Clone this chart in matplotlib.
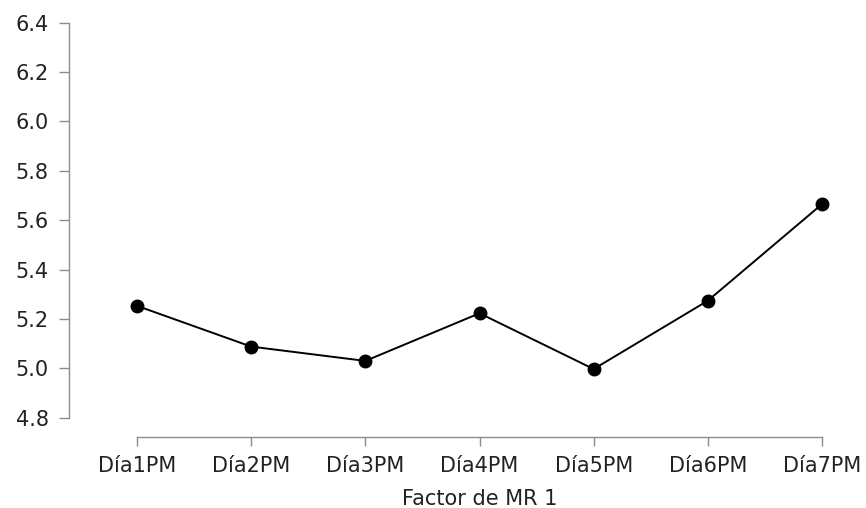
import matplotlib
matplotlib.use("Agg")
import matplotlib.pyplot as plt

# data
categories = ["Día1PM", "Día2PM", "Día3PM", "Día4PM", "Día5PM", "Día6PM", "Día7PM"]
means = [5.253, 5.088, 5.030, 5.223, 4.997, 5.274, 5.665]
y_ticks = [4.8, 5.0, 5.2, 5.4, 5.6, 5.8, 6.0, 6.2, 6.4]

W, H = 866, 508
fig = plt.figure(figsize=(W / 100, H / 100), dpi=100)
left, right = 69 / W, 822 / W
bottom, top = 1 - 417.7 / H, 1 - 22.7 / H
ax = fig.add_axes([left, bottom, right - left, top - bottom])

x = list(range(len(categories)))
ax.plot(x, means, color="black", linewidth=1.4, marker="o",
        markersize=9, clip_on=False, zorder=3)

x_lo, x_hi = -0.596, len(categories) - 1
ax.set_xlim(x_lo, x_hi)
ax.set_ylim(4.8, 6.4)
ax.set_yticks(y_ticks)
ax.set_yticklabels([f"{v:.1f}" for v in y_ticks])
ax.set_xticks(x)
ax.set_xticklabels(categories)

# JASP-like detached axes
for s in ("top", "right"):
    ax.spines[s].set_visible(False)
grey = "#8c8c8c"
ax.spines["left"].set_color(grey)
ax.spines["bottom"].set_color(grey)
ax.spines["left"].set_linewidth(1.0)
ax.spines["bottom"].set_linewidth(1.0)
ax.spines["bottom"].set_position(("outward", 14))
ax.spines["bottom"].set_bounds(0, len(categories) - 1)
ax.spines["left"].set_bounds(4.8, 6.4)

ax.tick_params(axis="both", direction="out", color=grey, width=1.0,
               labelsize=15, labelcolor="#222222")
ax.tick_params(axis="y", length=7.5, pad=7)
ax.tick_params(axis="x", length=6.5, pad=7)

ax.set_xlabel("Factor de MR 1", fontsize=15, color="#222222")
ax.xaxis.set_label_coords((3 - x_lo) / (x_hi - x_lo), -0.18)

fig.savefig("out.png", dpi=100, facecolor="white")
